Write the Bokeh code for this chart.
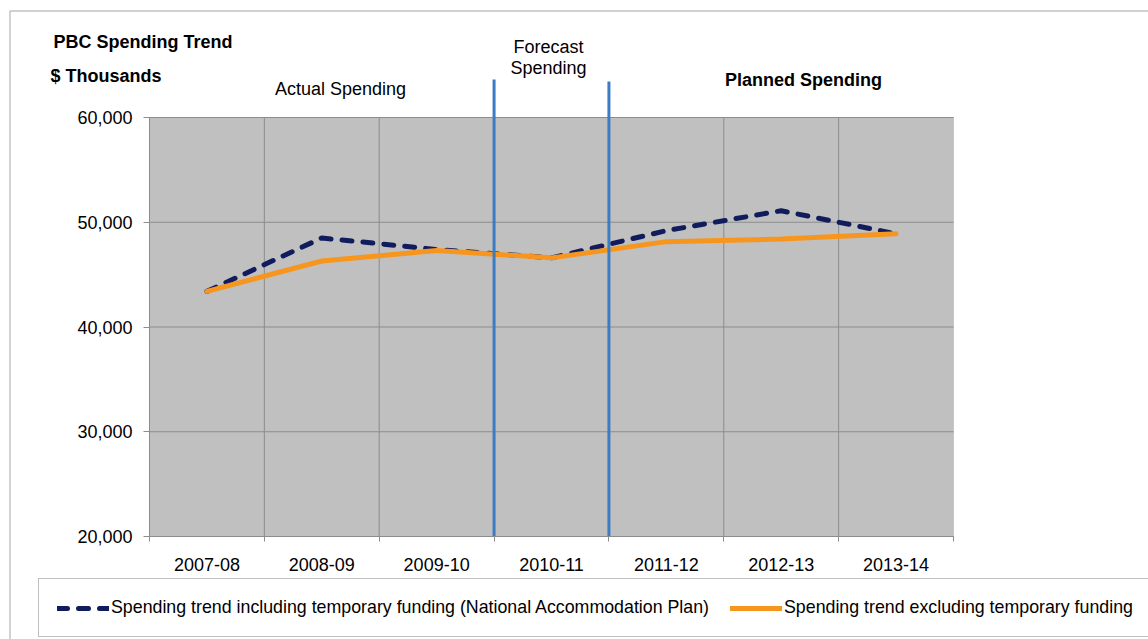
from bokeh.plotting import figure
from bokeh.models import (Range1d, FixedTicker, NumeralTickFormatter, BoxAnnotation,
                          Label, Legend, LegendItem)
from bokeh.embed import file_html
from bokeh.resources import INLINE

# ---------------- data ----------------
categories = ["2007-08", "2008-09", "2009-10", "2010-11", "2011-12", "2012-13", "2013-14"]
incl_temp = [43400, 48500, 47400, 46600, 49200, 51100, 48900]
excl_temp = [43400, 46300, 47300, 46600, 48150, 48400, 48900]
y_ticks = [20000, 30000, 40000, 50000, 60000]
series_labels = ["Spending trend including temporary funding (National Accommodation Plan)",
                 "Spending trend excluding temporary funding"]
phase_labels = ["Actual Spending", "Forecast", "Spending", "Planned Spending"]
title_lines = ["PBC Spending Trend", "$ Thousands"]
forecast_category = "2010-11"

# ---------------- styling / layout ----------------
FONT = "Liberation Sans"
FS = "18px"
NAVY = "#101c5c"
ORANGE = "#f7961f"
BLUE = "#3b7cc4"
GRID = "#8c8c8c"
PLOT_BG = "#c0c0c0"

W, H = 1148, 639
PA_L, PA_R, PA_T, PA_B = 149, 953, 117, 536   # plot-area pixels

n = len(categories)
x_idx = list(range(n))
ymin, ymax = y_ticks[0], y_ticks[-1]
per_px_x = n / (PA_R - PA_L)
per_px_y = (ymax - ymin) / (PA_B - PA_T)
x_start = -0.5 - PA_L * per_px_x
x_end = x_start + W * per_px_x
y_start = ymin - (H - PA_B) * per_px_y
y_end = y_start + H * per_px_y


def px_x(X):
    return x_start + X * per_px_x


def px_y(Y):
    return y_end - Y * per_px_y


p = figure(width=W, height=H, x_range=Range1d(x_start, x_end), y_range=Range1d(y_start, y_end),
           output_backend="svg", toolbar_location=None, min_border=0,
           background_fill_color="white", border_fill_color="white", outline_line_color=None)
p.grid.visible = False

# plot-area background
p.add_layout(BoxAnnotation(left=-0.5, right=n - 0.5, bottom=ymin, top=ymax,
                           fill_color=PLOT_BG, fill_alpha=1.0, line_color=GRID,
                           line_width=1, level="image"))

# grid lines (category boundaries and value ticks), limited to the plot area
bounds = [i + 0.5 for i in range(n - 1)]
p.segment(x0=bounds, y0=[ymin] * len(bounds), x1=bounds, y1=[ymax] * len(bounds),
          line_color=GRID, line_width=1, level="underlay")
p.segment(x0=[-0.5] * len(y_ticks), y0=y_ticks, x1=[n - 0.5] * len(y_ticks), y1=y_ticks,
          line_color=GRID, line_width=1, level="underlay")

# axes drawn at fixed positions inside the canvas
xa = p.xaxis[0]
xa.fixed_location = ymin
xa.bounds = (-0.5, n - 0.5)
xa.ticker = FixedTicker(ticks=x_idx, minor_ticks=[i - 0.5 for i in range(n + 1)])
xa.major_label_overrides = {i: c for i, c in enumerate(categories)}
xa.major_tick_out = 0
xa.major_tick_in = 0
xa.minor_tick_out = 5
xa.minor_tick_in = 0
xa.minor_tick_line_color = GRID
xa.axis_line_color = GRID
xa.major_label_standoff = 16
xa.major_label_text_font = FONT
xa.major_label_text_font_size = FS
xa.major_label_text_color = "black"

ya = p.yaxis[0]
ya.fixed_location = -0.5
ya.ticker = FixedTicker(ticks=y_ticks, minor_ticks=[])
ya.formatter = NumeralTickFormatter(format="0,0")
ya.bounds = (ymin, ymax)
ya.major_tick_out = 6
ya.major_tick_in = 0
ya.minor_tick_out = 0
ya.minor_tick_in = 0
ya.major_tick_line_color = GRID
ya.axis_line_color = GRID
ya.major_label_standoff = 11
ya.major_label_text_font = FONT
ya.major_label_text_font_size = FS
ya.major_label_text_color = "black"

# data lines
r_incl = p.line(x_idx, incl_temp, line_color=NAVY, line_width=5, line_dash="10 11",
                line_cap="round", line_join="round")
r_excl = p.line(x_idx, excl_temp, line_color=ORANGE, line_width=5,
                line_cap="round", line_join="round")

# phase separators
fi = categories.index(forecast_category)
sep_x = [fi - 0.5, fi + 0.5]
p.segment(x0=sep_x, y0=[ymin, ymin], x1=sep_x, y1=[px_y(79), px_y(81)],
          line_color=BLUE, line_width=3)


# texts
def add_label(X, Y, text, bold=False, align="left"):
    p.add_layout(Label(x=px_x(X), y=px_y(Y), text=text, text_font=FONT,
                       text_font_size=FS, text_font_style="bold" if bold else "normal",
                       text_color="black", text_baseline="middle", text_align=align))


add_label(53, 41, title_lines[0], bold=True)
add_label(50, 75, title_lines[1], bold=True)
add_label(340, 88, phase_labels[0], align="center")
add_label(548, 46, phase_labels[1], align="center")
add_label(548, 67, phase_labels[2], align="center")
add_label(803, 79, phase_labels[3], bold=True, align="center")

# outer border (right and bottom edges lie outside the picture)
p.add_layout(BoxAnnotation(left=px_x(9.5), right=px_x(W + 50), top=px_y(10.5), bottom=px_y(H + 50),
                           fill_alpha=0, line_color="#3c3c3c", line_width=1.5, level="overlay"))

# legend
legend = Legend(items=[LegendItem(label=series_labels[0], renderers=[r_incl]),
                       LegendItem(label=series_labels[1], renderers=[r_excl])],
                orientation="horizontal", location=(38, H - 637),
                margin=0, padding=18, spacing=21, label_standoff=2,
                glyph_width=52, glyph_height=18, label_height=18,
                label_text_font=FONT, label_text_font_size="17.8px", label_text_color="black",
                border_line_color="#7f7f7f", border_line_width=1,
                background_fill_color="white", background_fill_alpha=1.0)
p.add_layout(legend)

open("out.html", "w").write(file_html(p, INLINE))
